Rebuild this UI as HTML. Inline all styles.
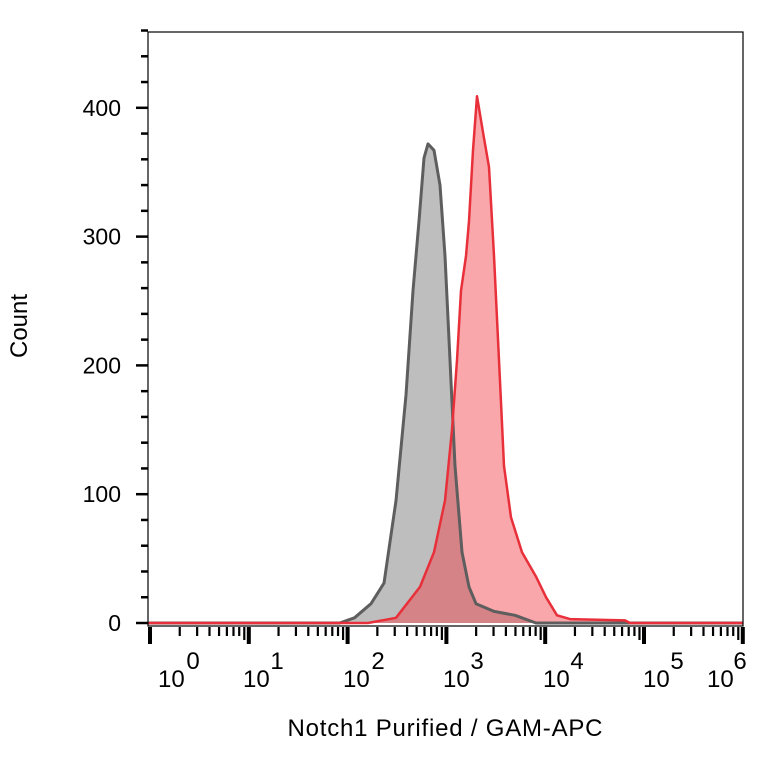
<!DOCTYPE html>
<html><head><meta charset="utf-8"><style>
html,body{margin:0;padding:0;background:#fff;}
svg{display:block;font-family:"Liberation Sans",Arial,sans-serif;}
</style></head><body>
<svg id="chart" width="764" height="764" viewBox="0 0 764 764">
<rect x="0" y="0" width="764" height="764" fill="#fff"/>
<g id="marks"></g>
<rect x="148" y="32" width="595" height="594" fill="none" stroke="#000" stroke-width="1.2"/>
<g id="axes"></g>
<text x="27" y="326" font-size="24" text-anchor="middle" transform="rotate(-90 27 326)">Count</text>
<text x="445" y="736" font-size="24" text-anchor="middle" textLength="315">Notch1 Purified / GAM-APC</text>
</svg>
<script>
// data (x in log10 decades, y in counts)
const grayX=[1.92,2.07,2.237,2.368,2.490,2.591,2.662,2.723,2.773,2.814,2.874,2.935,2.986,3.036,3.087,3.158,3.229,3.300,3.482,3.694,3.907];
const grayY=[0,4,15,31,95,177,258,312,361,372,367,340,285,204,122,55,28,15,9,6,0];
const redX=[2.206,2.490,2.733,2.874,2.986,3.057,3.107,3.148,3.198,3.229,3.269,3.310,3.370,3.431,3.482,3.532,3.583,3.654,3.765,3.907,4.008,4.119,4.251,4.808,4.858];
const redY=[0,4,28,55,95,150,204,258,285,312,367,409,381,354,285,204,122,82,55,36,20,6,3,2,0];
const yTicks=[0,100,200,300,400];
const yTickLabels=["0","100","200","300","400"];
const xDecades=[0,1,2,3,4,5,6];
const xLabelPos=[158,243,343,443,543,643,707];
const xSupPos=[193,277,378,477,577,677,740];

const NS="http://www.w3.org/2000/svg";
function X(d){return 150+98.8*d;}
function Y(c){return 623-1.288*c;}
const marks=document.getElementById('marks');
const axes=document.getElementById('axes');
function mk(tag,attrs,parent){const e=document.createElementNS(NS,tag);for(const k in attrs)e.setAttribute(k,attrs[k]);parent.appendChild(e);return e;}

function pts(xs,ys){let s=`${X(0)-2},${Y(0)} `;for(let i=0;i<xs.length;i++)s+=`${X(xs[i]).toFixed(1)},${Y(ys[i]).toFixed(1)} `;s+=`${X(6)},${Y(0)}`;return s;}
const gf=mk('polygon',{points:pts(grayX,grayY),fill:'rgba(125,125,125,0.5)',stroke:'none'},marks);


const rf=mk('polygon',{points:pts(redX,redY),fill:'rgba(242,60,68,0.45)',stroke:'none'},marks);


const gl=mk('polyline',{points:pts(grayX,grayY),fill:'none',stroke:'#5e5e5e','stroke-width':3,'stroke-linejoin':'round'},marks);


const rl=mk('polyline',{points:pts(redX,redY),fill:'none',stroke:'#e8303a','stroke-width':2.5,'stroke-linejoin':'round'},marks);



// y ticks
for(let v=0;v<=460;v+=20){
  const major=v%100===0;
  const t=mk('line',{x1:major?136:141,x2:148,y1:Y(v),y2:Y(v),stroke:'#000','stroke-width':2.5},axes);
  
  
}
yTicks.forEach((v,i)=>{
  const t=mk('text',{x:121,y:Y(v)+8,'font-size':23,'text-anchor':'end'},axes);
  t.textContent=yTickLabels[i];
  
  
});
// x ticks
xDecades.forEach((d,i)=>{
  const t=mk('line',{x1:X(d),x2:X(d),y1:627,y2:644,stroke:'#000','stroke-width':4},axes);
  
  
  if(d<6){for(let m=2;m<=9;m++){const xx=X(d+Math.log10(m));
    const mt=mk('line',{x1:xx,x2:xx,y1:627,y2:m===9?640:636,stroke:'#000','stroke-width':2.2},axes);
    
    }}
  const l=mk('text',{x:xLabelPos[i],y:687,'font-size':24},axes);
  l.textContent='10';
  
  
  const s=mk('text',{x:xSupPos[i],y:669,'font-size':24,'text-anchor':'middle'},axes);
  s.textContent=String(d);
  
  
});
</script>
</body></html>
